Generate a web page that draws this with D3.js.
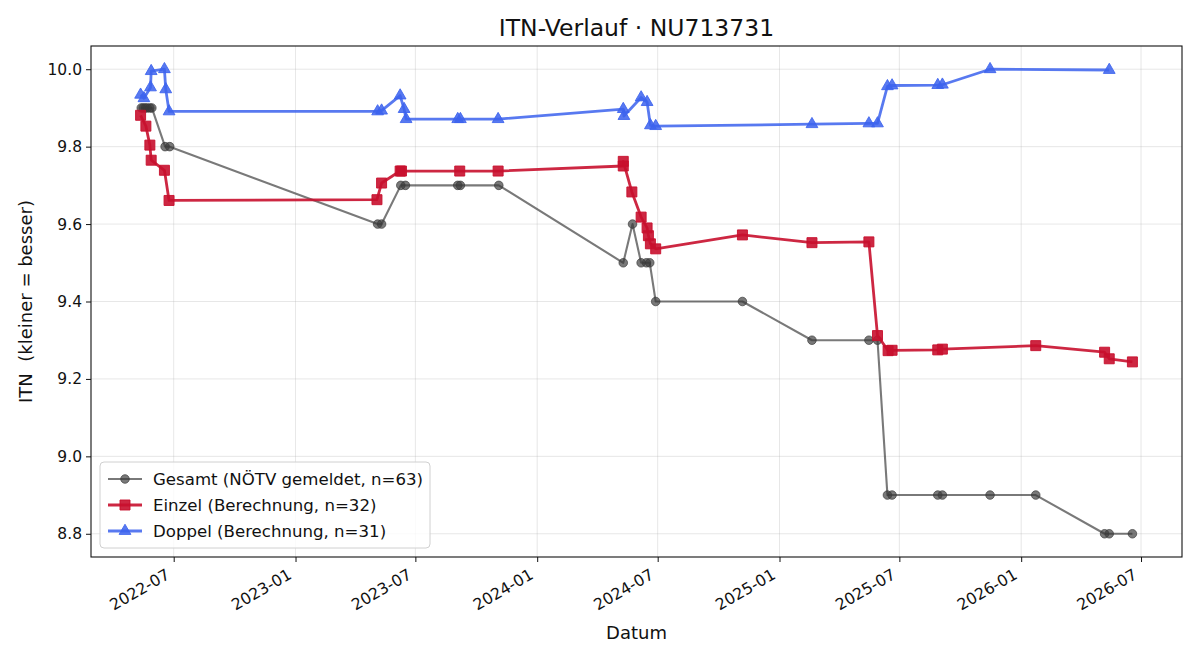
<!DOCTYPE html>
<html>
<head>
<meta charset="utf-8">
<script src="https://cdn.jsdelivr.net/npm/d3@7/dist/d3.min.js"></script>
<style>
  body { margin: 0; background: #fff; }
  svg, svg text { font-family: "DejaVu Sans", sans-serif; }
</style>
</head>
<body>
<div id="chart"></div>
<script>
'use strict';

// Gesamt (NÖTV gemeldet)
var gesamtDates = ['2022-05-13','2022-05-16','2022-05-19','2022-05-22','2022-05-26','2022-05-29',
  '2022-06-18','2022-06-25',
  '2023-05-05','2023-05-11','2023-06-09','2023-06-16','2023-09-03','2023-09-07','2023-11-04',
  '2024-05-10','2024-05-24','2024-06-06','2024-06-14','2024-06-19','2024-06-28',
  '2024-11-06','2025-02-19','2025-05-16','2025-05-29','2025-06-13','2025-06-20',
  '2025-08-28','2025-09-04','2025-11-15','2026-01-23','2026-05-07','2026-05-14','2026-06-18'];
var gesamtValues = [9.9,9.9,9.9,9.9,9.9,9.9,
  9.8,9.8,
  9.6,9.6,9.7,9.7,9.7,9.7,9.7,
  9.5,9.6,9.5,9.5,9.5,9.4,
  9.4,9.3,9.3,9.3,8.9,8.9,
  8.9,8.9,8.9,8.9,8.8,8.8,8.8];

// Einzel (Berechnung)
var einzelDates = ['2022-05-12','2022-05-20','2022-05-26','2022-05-28','2022-06-17','2022-06-24',
  '2023-05-04','2023-05-11','2023-06-08','2023-06-10','2023-09-06','2023-11-03',
  '2024-05-10','2024-05-10','2024-05-23','2024-06-06','2024-06-15','2024-06-17','2024-06-20','2024-06-28',
  '2024-11-06','2025-02-19','2025-05-16','2025-05-29','2025-06-14','2025-06-20',
  '2025-08-28','2025-09-04','2026-01-23','2026-05-07','2026-05-14','2026-06-18'];
var einzelValues = [9.881,9.853,9.804,9.765,9.739,9.661,
  9.663,9.706,9.737,9.737,9.737,9.737,
  9.750,9.762,9.683,9.618,9.590,9.570,9.549,9.536,
  9.572,9.552,9.554,9.312,9.273,9.274,
  9.275,9.277,9.286,9.269,9.252,9.244];

// Doppel (Berechnung)
var doppelDates = ['2022-05-12','2022-05-17','2022-05-27','2022-05-28','2022-06-17','2022-06-19','2022-06-24',
  '2023-05-05','2023-05-11','2023-06-08','2023-06-14','2023-06-17','2023-09-03','2023-09-07','2023-11-03',
  '2024-05-10','2024-05-11','2024-06-06','2024-06-15','2024-06-20','2024-06-28',
  '2025-02-19','2025-05-16','2025-05-29','2025-06-13','2025-06-20',
  '2025-08-28','2025-09-04','2025-11-15','2026-05-14'];
var doppelValues = [9.934,9.925,9.953,9.995,10.0,9.948,9.891,
  9.891,9.893,9.932,9.897,9.871,9.871,9.871,9.871,
  9.897,9.879,9.927,9.915,9.855,9.853,
  9.858,9.860,9.860,9.956,9.958,
  9.959,9.960,10.0,9.998];

var yTicks = [8.8, 9.0, 9.2, 9.4, 9.6, 9.8, 10.0];

var W = 1200, H = 660;
var m = {left: 91, top: 46, right: 18, bottom: 103};
var pw = W - m.left - m.right, ph = H - m.top - m.bottom;
var parse = d3.timeParse('%Y-%m-%d');
var FONT = '"DejaVu Sans", sans-serif';

function zip(dates, values) {
  return dates.map(function(d, i) { return {date: parse(d), value: values[i]}; });
}

var series = [
  {name: 'Gesamt (NÖTV gemeldet, n=63)', data: zip(gesamtDates, gesamtValues),
   color: '#3a3a3a', opacity: 0.68, width: 2.1, marker: 'circle', size: 58},
  {name: 'Einzel (Berechnung, n=32)', data: zip(einzelDates, einzelValues),
   color: '#c8102e', opacity: 0.9, width: 2.8, marker: 'square', size: 100},
  {name: 'Doppel (Berechnung, n=31)', data: zip(doppelDates, doppelValues),
   color: '#3d63ee', opacity: 0.86, width: 2.8, marker: 'triangle', size: 60}
];

var all = [];
series.forEach(function(s) { all = all.concat(s.data); });
var xExt = d3.extent(all, function(d) { return d.date; });
var yExt = d3.extent(all, function(d) { return d.value; });
var xPad = (xExt[1] - xExt[0]) * 0.05;
var yPad = (yExt[1] - yExt[0]) * 0.05;

var x = d3.scaleTime()
  .domain([new Date(+xExt[0] - xPad), new Date(+xExt[1] + xPad)])
  .range([0, pw]);
var y = d3.scaleLinear()
  .domain([yExt[0] - yPad, yExt[1] + yPad])
  .range([ph, 0]);

var svg = d3.select('#chart').append('svg')
  .attr('width', W)
  .attr('height', H)
  .attr('font-family', FONT);

svg.append('text')
  .attr('x', m.left + pw / 2)
  .attr('y', 36)
  .attr('text-anchor', 'middle')
  .attr('font-size', 23.5)
  .attr('fill', '#111')
  .text('ITN-Verlauf · NU713731');

var g = svg.append('g').attr('transform', 'translate(' + m.left + ',' + m.top + ')');

var xTicks = x.ticks(d3.timeMonth.every(6));

// grid
g.append('g').selectAll('line').data(xTicks).enter().append('line')
  .attr('x1', function(d) { return x(d); })
  .attr('x2', function(d) { return x(d); })
  .attr('y1', 0).attr('y2', ph)
  .attr('stroke', '#b0b0b0').attr('stroke-opacity', 0.3).attr('stroke-width', 1);
g.append('g').selectAll('line').data(yTicks).enter().append('line')
  .attr('x1', 0).attr('x2', pw)
  .attr('y1', function(d) { return y(d); })
  .attr('y2', function(d) { return y(d); })
  .attr('stroke', '#b0b0b0').attr('stroke-opacity', 0.3).attr('stroke-width', 1);

// axes
var xAxis = g.append('g')
  .attr('transform', 'translate(0,' + ph + ')')
  .call(d3.axisBottom(x).tickValues(xTicks).tickFormat(d3.timeFormat('%Y-%m')).tickSizeOuter(0).tickSize(5));
xAxis.attr('font-family', FONT);
xAxis.selectAll('text')
  .attr('font-size', 15.8)
  .attr('fill', '#111')
  .attr('text-anchor', 'end')
  .attr('x', 0)
  .attr('y', 0)
  .attr('dy', '0.35em')
  .attr('transform', 'translate(-6,16) rotate(-30)');
xAxis.select('.domain').remove();

var yAxis = g.append('g')
  .call(d3.axisLeft(y).tickValues(yTicks).tickFormat(d3.format('.1f')).tickSizeOuter(0).tickSize(5));
yAxis.attr('font-family', FONT);
yAxis.selectAll('text').attr('font-size', 15.5).attr('fill', '#111').attr('x', -9);
yAxis.select('.domain').remove();
g.selectAll('.tick line').attr('stroke', '#111');

g.append('rect')
  .attr('width', pw).attr('height', ph)
  .attr('fill', 'none').attr('stroke', '#111').attr('stroke-width', 1.1);

svg.append('text')
  .attr('x', m.left + pw / 2)
  .attr('y', 639)
  .attr('text-anchor', 'middle')
  .attr('font-size', 18)
  .attr('fill', '#111')
  .text('Datum');

svg.append('text')
  .attr('transform', 'translate(32,' + (m.top + ph / 2) + ') rotate(-90)')
  .attr('text-anchor', 'middle')
  .attr('font-size', 18)
  .attr('fill', '#111')
  .style('white-space', 'pre')
  .text('ITN  (kleiner = besser)');

var symbolType = {circle: d3.symbolCircle, square: d3.symbolSquare, triangle: d3.symbolTriangle};

var line = d3.line()
  .x(function(d) { return x(d.date); })
  .y(function(d) { return y(d.value); });

series.forEach(function(s) {
  var sg = g.append('g');
  sg.append('path')
    .datum(s.data)
    .attr('d', line)
    .attr('fill', 'none')
    .attr('stroke', s.color)
    .attr('stroke-opacity', s.opacity)
    .attr('stroke-width', s.width)
    .attr('stroke-linejoin', 'round');
  sg.selectAll('path.mk').data(s.data).enter().append('path')
    .attr('class', 'mk')
    .attr('d', d3.symbol().type(symbolType[s.marker]).size(s.size))
    .attr('transform', function(d) { return 'translate(' + x(d.date) + ',' + y(d.value) + ')'; })
    .attr('fill', s.color)
    .attr('fill-opacity', s.opacity)
    .attr('stroke', s.color)
    .attr('stroke-opacity', s.opacity)
    .attr('stroke-width', 1);
});

// legend
var lg = svg.append('g').attr('transform', 'translate(100,462)');
lg.append('rect')
  .attr('width', 330).attr('height', 86)
  .attr('rx', 4)
  .attr('fill', '#fff').attr('fill-opacity', 0.8)
  .attr('stroke', '#d0d0d0');
series.forEach(function(s, i) {
  var row = lg.append('g').attr('transform', 'translate(0,' + (17 + i * 26) + ')');
  row.append('line')
    .attr('x1', 8).attr('x2', 42)
    .attr('stroke', s.color).attr('stroke-opacity', s.opacity).attr('stroke-width', s.width);
  row.append('path')
    .attr('d', d3.symbol().type(symbolType[s.marker]).size(s.size))
    .attr('transform', 'translate(25,0)')
    .attr('fill', s.color).attr('fill-opacity', s.opacity)
    .attr('stroke', s.color).attr('stroke-opacity', s.opacity);
  row.append('text')
    .attr('x', 53).attr('y', 0)
    .attr('dy', '0.35em')
    .attr('font-size', 16.6)
    .attr('fill', '#111')
    .text(s.name);
});
</script>
</body>
</html>
